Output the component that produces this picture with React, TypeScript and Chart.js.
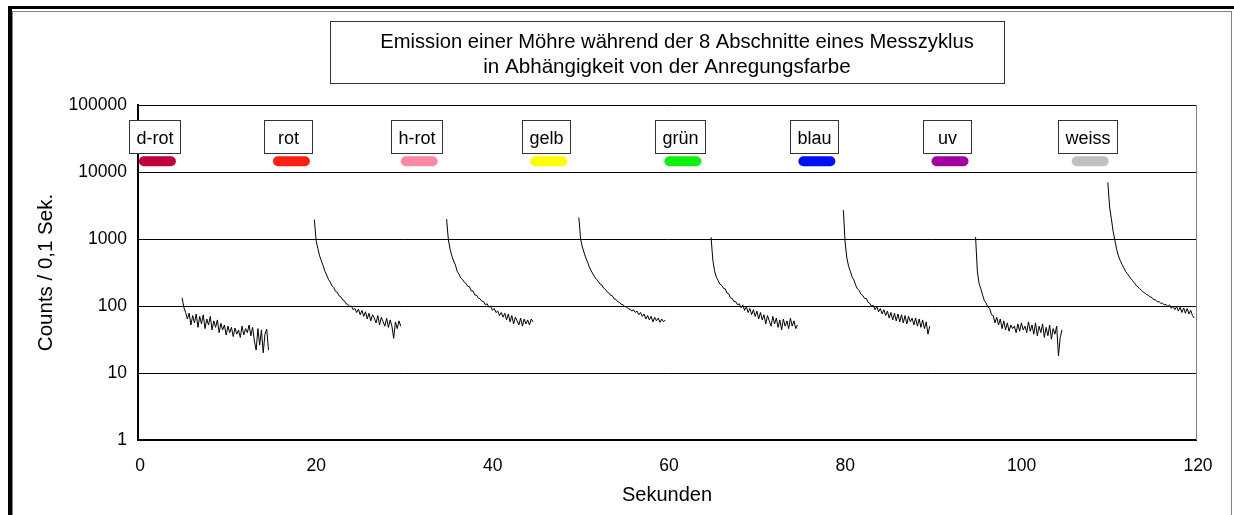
import { useEffect, useRef } from "react";
import { Chart, registerables } from "chart.js";

Chart.register(...registerables);

// Measurement cycle: 8 excitation phases, each recorded for 10 s
const segmentStarts = [5, 20, 35, 50, 65, 80, 95, 110];
const sampleStep = 0.2; // seconds between plotted samples

const dRot = [132, 96, 80, 64, 78, 52, 72, 56, 76, 48, 70, 54, 74, 46, 64, 52, 70, 44, 60, 48, 62, 40, 55, 44, 52, 37, 50, 40, 48, 35, 47, 38, 44, 34, 50, 37, 46, 40, 52, 36, 48, 30, 22, 46, 26, 44, 20, 38, 45, 22];
const rot = [1950, 950, 720, 560, 470, 400, 330, 290, 250, 228, 200, 188, 166, 160, 142, 137, 124, 120, 108, 106, 98, 100, 88, 92, 80, 90, 74, 86, 70, 82, 64, 78, 60, 74, 66, 56, 72, 52, 68, 58, 50, 66, 48, 62, 50, 33, 58, 46, 60, 50];
const hRot = [1980, 980, 700, 560, 470, 410, 330, 300, 262, 250, 228, 218, 196, 194, 168, 168, 146, 145, 132, 128, 118, 116, 104, 108, 96, 100, 86, 92, 80, 84, 72, 80, 68, 78, 62, 76, 58, 72, 54, 68, 60, 52, 66, 50, 64, 54, 62, 52, 64, 58];
const gelb = [2100, 1000, 760, 620, 520, 450, 380, 335, 300, 272, 250, 232, 213, 207, 186, 178, 163, 157, 144, 142, 128, 126, 116, 114, 106, 105, 98, 97, 91, 90, 84, 88, 80, 84, 74, 80, 70, 76, 64, 72, 62, 70, 58, 68, 60, 66, 57, 64, 58, 62];
const gruen = [1060, 480, 330, 270, 240, 212, 204, 184, 180, 156, 152, 132, 130, 116, 116, 104, 108, 94, 104, 86, 98, 80, 92, 74, 88, 70, 84, 64, 80, 62, 74, 54, 72, 60, 50, 70, 54, 66, 48, 62, 44, 64, 50, 60, 46, 66, 50, 60, 46, 52];
const blau = [2700, 900, 520, 390, 330, 270, 245, 205, 180, 170, 150, 144, 130, 130, 114, 110, 100, 102, 88, 98, 82, 92, 76, 88, 72, 84, 66, 80, 62, 78, 60, 76, 58, 74, 56, 72, 54, 70, 58, 66, 52, 66, 50, 64, 48, 62, 46, 58, 38, 50];
const uv = [1070, 330, 215, 180, 145, 120, 110, 96, 92, 74, 72, 56, 68, 52, 64, 46, 60, 44, 56, 42, 52, 46, 50, 40, 54, 42, 56, 44, 50, 40, 58, 42, 52, 38, 56, 36, 50, 40, 54, 34, 48, 36, 52, 32, 46, 38, 50, 18, 34, 44];
const weiss = [7000, 3000, 2000, 1300, 960, 700, 560, 480, 420, 375, 330, 305, 280, 258, 240, 222, 205, 192, 182, 172, 162, 156, 148, 145, 136, 134, 124, 124, 116, 116, 110, 110, 104, 106, 98, 104, 92, 100, 88, 98, 84, 96, 80, 94, 78, 92, 76, 86, 72, 66];

const segmentValues = [dRot, rot, hRot, gelb, gruen, blau, uv, weiss];

// Excitation colour tags shown above each phase
const colourNames = ["d-rot", "rot", "h-rot", "gelb", "grün", "blau", "uv", "weiss"];
const colourSwatches = ["#C0003C", "#FF2015", "#FF88A6", "#FFFF00", "#10F010", "#0010F0", "#A000A0", "#C0C0C0"];
const tagTimes = [2.2, 17.4, 31.9, 46.6, 61.8, 77.0, 92.1, 108.0];
const swatchLevel = 14500;

const yTicks = [1, 10, 100, 1000, 10000, 100000];
const xMin = 0;
const xMax = 120;
const xStep = 20;

const titleLines = [
  "Emission einer Möhre während der 8 Abschnitte eines Messzyklus",
  "in Abhängigkeit von der Anregungsfarbe",
];
const xTitle = "Sekunden";
const yTitle = "Counts / 0,1 Sek.";

const FONT = "'Liberation Sans', Arial, Helvetica, sans-serif";
const W = 1234;
const H = 515;

const decorPlugin = {
  id: "decor",
  beforeDraw(chart: any) {
    const ctx = chart.ctx;
    ctx.save();
    ctx.fillStyle = "#fff";
    ctx.fillRect(0, 0, W, H);
    // outer frame
    ctx.fillStyle = "#000";
    ctx.fillRect(8, 6, W - 8, 3);
    ctx.fillRect(8, 6, 4, H - 6);
    ctx.strokeStyle = "#808080";
    ctx.lineWidth = 1;
    ctx.beginPath();
    ctx.moveTo(12.5, H);
    ctx.lineTo(12.5, 11.5);
    ctx.lineTo(1231.5, 11.5);
    ctx.lineTo(1231.5, H);
    ctx.stroke();

    // title box
    ctx.strokeStyle = "#333";
    ctx.strokeRect(330.5, 21.5, 674, 62);
    ctx.fillStyle = "#000";
    ctx.textAlign = "center";
    ctx.textBaseline = "alphabetic";
    ctx.font = `20.2px ${FONT}`;
    ctx.fillText(titleLines[0], 677, 47.5);
    ctx.font = `20.6px ${FONT}`;
    ctx.fillText(titleLines[1], 667, 73);

    // axis titles
    const area = chart.chartArea;
    ctx.font = `20px ${FONT}`;
    ctx.fillText(xTitle, (area.left + area.right) / 2, 501);
    ctx.save();
    ctx.translate(46, (area.top + area.bottom) / 2);
    ctx.rotate(-Math.PI / 2);
    ctx.textBaseline = "middle";
    ctx.font = `20.5px ${FONT}`;
    ctx.fillText(yTitle, 0, 0);
    ctx.restore();
    ctx.restore();
  },
  afterDraw(chart: any) {
    const ctx = chart.ctx;
    const xs = chart.scales.x;
    const ys = chart.scales.y;
    const area = chart.chartArea;
    ctx.save();
    // right edge of plot area
    ctx.strokeStyle = "#808080";
    ctx.lineWidth = 1;
    ctx.beginPath();
    ctx.moveTo(Math.round(area.right) + 0.5, area.top);
    ctx.lineTo(Math.round(area.right) + 0.5, area.bottom);
    ctx.stroke();

    ctx.font = `18px ${FONT}`;
    ctx.textAlign = "center";
    ctx.textBaseline = "alphabetic";
    colourNames.forEach((name, i) => {
      const cx = xs.getPixelForValue(tagTimes[i]);
      const cy = ys.getPixelForValue(swatchLevel);
      ctx.fillStyle = colourSwatches[i];
      ctx.beginPath();
      ctx.roundRect(cx - 18.5, cy - 5, 37, 10, 5);
      ctx.fill();
      const tw = ctx.measureText(name).width;
      const bw = Math.max(48, Math.round(tw + 14));
      const bx = Math.round(cx - 3 - bw / 2) + 0.5;
      const by = Math.round(cy - 5 - 3.5 - 33) + 0.5;
      ctx.fillStyle = "#fff";
      ctx.fillRect(bx, by, bw, 33);
      ctx.strokeStyle = "#333";
      ctx.strokeRect(bx, by, bw, 33);
      ctx.fillStyle = "#000";
      ctx.fillText(name, bx + bw / 2, by + 23.5);
    });
    ctx.restore();
  },
};

export default function App() {
  const canvasRef = useRef<HTMLCanvasElement | null>(null);

  useEffect(() => {
    const canvas = canvasRef.current;
    if (!canvas) return;

    const datasets = segmentValues.map((vals, s) => ({
      label: colourNames[s],
      data: vals.map((v, i) => ({ x: segmentStarts[s] + i * sampleStep, y: v })),
      borderColor: "#000",
      borderWidth: 1,
      pointRadius: 0,
      tension: 0,
      fill: false,
    }));

    const chart = new Chart(canvas, {
      type: "line",
      data: { datasets },
      plugins: [decorPlugin],
      options: {
        responsive: false,
        animation: false,
        devicePixelRatio: 1,
        layout: { padding: { left: 0, top: 105, right: W - 1196, bottom: 35 } },
        plugins: {
          legend: { display: false },
          title: { display: false },
          tooltip: { enabled: false },
        },
        scales: {
          x: {
            type: "linear",
            min: xMin,
            max: xMax,
            afterFit: (s: any) => {
              s.height = 40;
            },
            ticks: {
              stepSize: xStep,
              color: "#000",
              font: { family: FONT, size: 17.5 },
              padding: 16,
              labelOffset: 2,
              maxRotation: 0,
            },
            grid: { display: false, drawTicks: false },
            border: { display: true, color: "#000", width: 2 },
          },
          y: {
            type: "logarithmic",
            min: yTicks[0],
            max: yTicks[yTicks.length - 1],
            afterFit: (s: any) => {
              s.width = 138;
            },
            afterBuildTicks: (s: any) => {
              s.ticks = yTicks.map((v) => ({ value: v }));
            },
            ticks: {
              color: "#000",
              font: { family: FONT, size: 17.5 },
              padding: 11,
              callback: (v: any) => String(v),
            },
            grid: { color: "#000", lineWidth: 1, drawTicks: false },
            border: { display: true, color: "#000", width: 2 },
          },
        },
      },
    });
    return () => chart.destroy();
  }, []);

  return (
    <div style={{ position: "fixed", left: 0, top: 0, width: W, height: H, background: "#fff" }}>
      <canvas ref={canvasRef} width={W} height={H} style={{ width: W, height: H, display: "block" }} />
    </div>
  );
}
